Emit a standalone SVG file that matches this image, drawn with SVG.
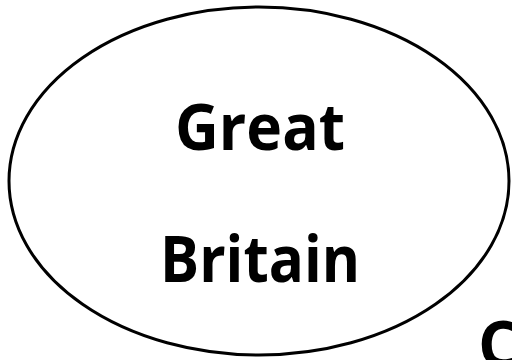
<svg xmlns="http://www.w3.org/2000/svg" width="512" height="360" viewBox="0 0 512 360">
<style>
.lbl{font-family:"Open Sans","Noto Sans",sans-serif;font-weight:700;font-size:64px;fill:#000;text-anchor:middle}
</style>
<rect width="512" height="360" fill="#fff"/>
<g id="node-great-britain">
<ellipse cx="259" cy="181" rx="250" ry="174" fill="#fff" stroke="#000" stroke-width="3"/>
<text class="lbl" x="260" y="150" textLength="170" lengthAdjust="spacingAndGlyphs">Great</text>
<text class="lbl" x="260" y="282" textLength="200" lengthAdjust="spacingAndGlyphs">Britain</text>
</g>
<g id="node-partial">
<text class="lbl" x="478" y="367" style="text-anchor:start">C</text>
</g>
<g id="connectors"></g>
</svg>
